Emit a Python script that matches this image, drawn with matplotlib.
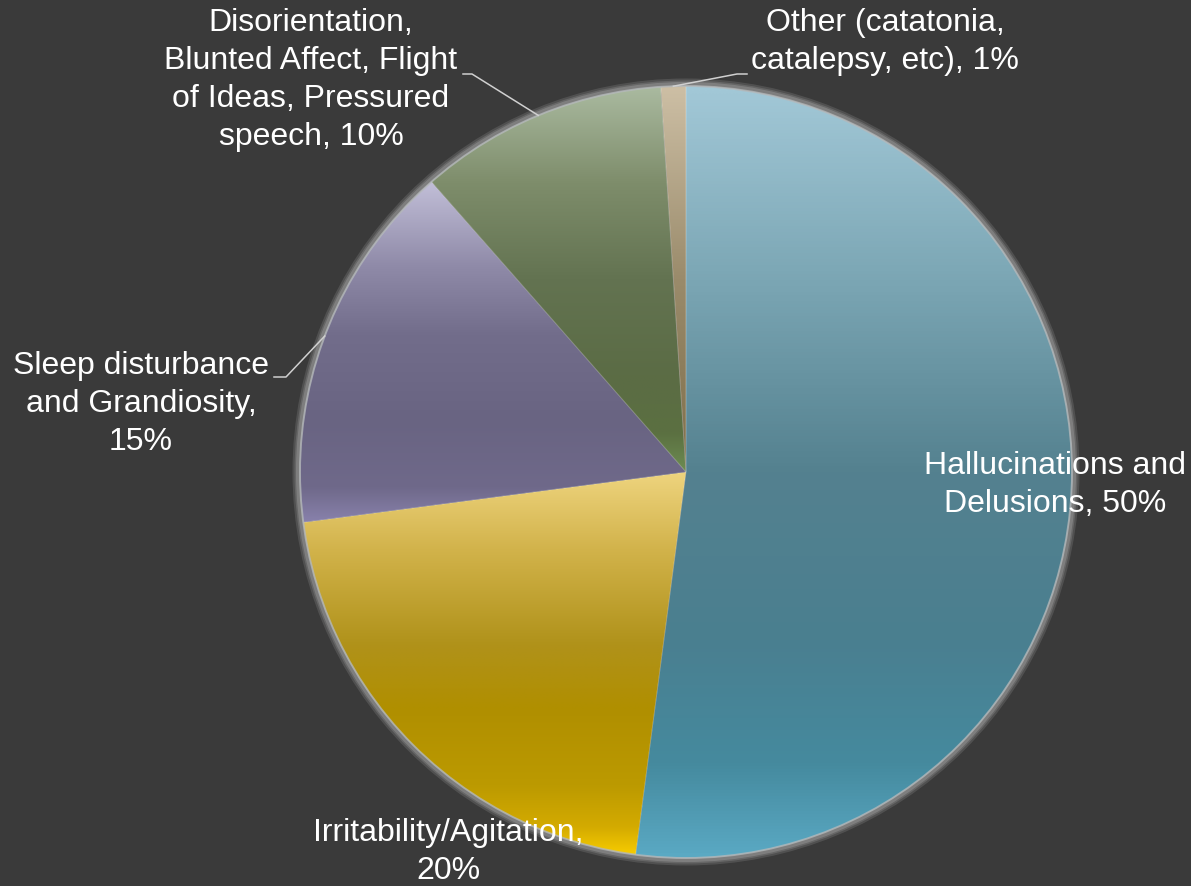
import matplotlib
matplotlib.use('Agg')
import matplotlib.pyplot as plt
import numpy as np
from matplotlib.colors import LinearSegmentedColormap
from matplotlib.patches import Circle

# data
names = ['Hallucinations and\nDelusions', 'Irritability/Agitation', 'Sleep disturbance\nand Grandiosity',
         'Disorientation,\nBlunted Affect, Flight\nof Ideas, Pressured\nspeech', 'Other (catatonia,\ncatalepsy, etc)']
values = [50, 20, 15, 10, 1]
seps = [', ', ',\n', ',\n', ', ', ', ']

# vertical gradient per slice (top -> bottom)
grads = [
    [(0, '#a2c8d7'), (0.25, '#7ba6b4'), (0.5, '#54818f'), (0.72, '#4a7f90'), (0.88, '#458a9e'), (1, '#5aa9c3')],
    [(0, '#eed47e'), (0.2, '#d2b34b'), (0.45, '#b0921a'), (0.62, '#b08f00'), (0.82, '#bc9a00'), (0.93, '#d4ab00'), (1, '#f7cc00')],
    [(0, '#c2bfd8'), (0.25, '#8f8aa8'), (0.45, '#726d8b'), (0.7, '#696482'), (0.9, '#6f698a'), (1, '#8881ab')],
    [(0, '#aabaa0'), (0.25, '#7e8d6b'), (0.5, '#637351'), (0.75, '#5b6c45'), (0.9, '#5b7041'), (1, '#6d8c52')],
    [(0, '#cdbfa5'), (0.5, '#9a8b6b'), (1, '#7e6e4a')],
]

W, H = 1191, 887
bg = '#3a3a3a'
cx, cy, R = 686, H - 473, 386

# label centres (px from top-left)
label_pos = [(1055, 485), (448, 852), (141, 404), (311, 80), (885, 42)]
# leader start points (px) for the outside labels
leaders = {2: [(274, 378), (286, 378)], 3: [(463, 75), (472, 75)], 4: [(747, 75), (737, 75)]}

plt.rcParams['font.family'] = ['Liberation Sans', 'DejaVu Sans']

fig = plt.figure(figsize=(W / 100, H / 100), dpi=100, facecolor=bg)
ax = fig.add_axes([0, 0, 1, 1])
ax.set_facecolor(bg)

wedges, _ = ax.pie(values, startangle=90, counterclock=False, center=(cx, cy), radius=R,
                   wedgeprops=dict(facecolor='none', edgecolor=(1, 1, 1, 0.18), linewidth=0.6, zorder=2))

# soft grey glow round the pie
for lw, a in [(13, 0.18), (9, 0.22), (6, 0.3)]:
    ax.add_patch(Circle((cx, cy), R + 1, fill=False, lw=lw * 0.72, edgecolor='#b8b8b8', alpha=a, zorder=1))

for i, w in enumerate(wedges):
    th = np.radians(np.linspace(w.theta1, w.theta2, 200))
    xs = np.concatenate([[cx], cx + R * np.cos(th)])
    ys = np.concatenate([[cy], cy + R * np.sin(th)])
    cmap = LinearSegmentedColormap.from_list('g%d' % i, grads[i])
    z = np.linspace(0, 1, 256)[:, None]
    im = ax.imshow(z, cmap=cmap, aspect='auto', origin='upper', interpolation='bilinear',
                   extent=[xs.min(), xs.max(), ys.min(), ys.max()], zorder=1.5)
    im.set_clip_path(w)

ax.add_patch(Circle((cx, cy), R, fill=False, lw=1.4, edgecolor='#b4b8ba', alpha=0.75, zorder=2.5))

for i, (x, y) in enumerate(label_pos):
    ax.text(x, H - y, names[i] + seps[i] + '%d%%' % values[i], color='white', fontsize=23,
            ha='center', va='center', multialignment='center', linespacing=1.34, zorder=3)
    if i in leaders:
        w = wedges[i]
        mid = np.radians((w.theta1 + w.theta2) / 2)
        px = [p[0] for p in leaders[i]] + [cx + R * np.cos(mid)]
        py = [H - p[1] for p in leaders[i]] + [cy + R * np.sin(mid)]
        ax.plot(px, py, color='#d0d0d0', lw=1.1, zorder=3)

ax.set_xlim(0, W)
ax.set_ylim(0, H)
ax.set_aspect('equal')
ax.axis('off')

plt.savefig('out.png', dpi=100, facecolor=bg)
